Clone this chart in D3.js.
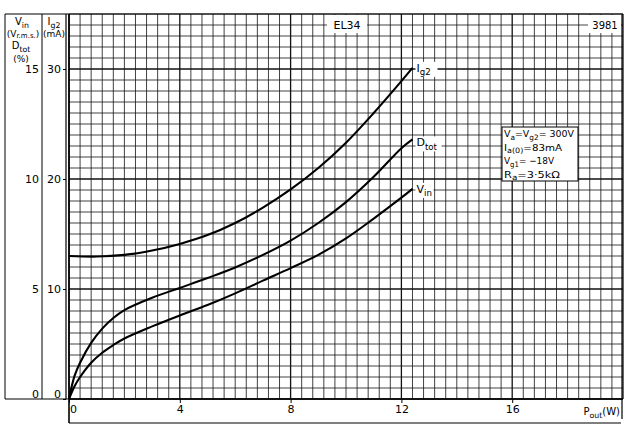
<!DOCTYPE html>
<html><head><meta charset="utf-8">
<script src="https://cdn.jsdelivr.net/npm/d3@7"></script>
<style>body{margin:0;background:#fff}svg{display:block;font-family:"DejaVu Sans","Liberation Sans",sans-serif}</style>
</head><body><svg id="c" width="640" height="427"></svg>
<script>
// ---- data ----
const powerIg2 = [0, 1, 2, 3, 4, 5, 6, 7, 8, 9, 10, 11, 12, 12.4];
const ig2      = [13.0, 12.95, 13.1, 13.5, 14.1, 14.9, 16.0, 17.4, 19.05, 21.0, 23.3, 26.0, 28.9, 30.1];
const powerDtot = [0, 0.2, 0.4, 0.8, 1.2, 1.6, 2, 3, 4, 5, 6, 7, 8, 9, 10, 11, 12, 12.4];
const dtot      = [0, 1.05, 1.65, 2.55, 3.2, 3.68, 4.04, 4.6, 5.05, 5.5, 5.98, 6.55, 7.2, 8.0, 8.95, 10.1, 11.4, 11.8];
const powerVin = [0, 0.2, 0.4, 0.8, 1.2, 1.6, 2, 3, 4, 5, 6, 7, 8, 9, 10, 11, 12, 12.4];
const vin      = [0, 0.58, 1.0, 1.65, 2.1, 2.45, 2.75, 3.3, 3.8, 4.27, 4.8, 5.38, 5.95, 6.55, 7.3, 8.2, 9.15, 9.55];
const xTicks = [0, 4, 8, 12, 16];
const ig2Ticks = [0, 10, 20, 30];
const vinTicks = [0, 5, 10, 15];
const conditions = [
  ["V", "a", "=V", "g2", "= 300V"],
  ["I", "a(0)", "=83mA"],
  ["V", "g1", "= \u221218V"],
  ["R", "a", "=3\u00b75k\u03a9"]
];

// ---- scales ----
const svg = d3.select("#c");
const x = d3.scaleLinear().domain([0, 20]).range([69, 623]);
const yI = d3.scaleLinear().domain([0, 35]).range([399, 14]);
const yV = d3.scaleLinear().domain([0, 17.5]).range([399, 14]);

svg.append("rect").attr("width", 640).attr("height", 427).attr("fill", "#fff");

// ---- grid ----
const g = svg.append("g");
const vLines = d3.range(0, 51).map(i => i * 0.4);
const hLines = d3.range(0, 36);
g.selectAll("line.v").data(vLines).join("line")
  .attr("x1", d => x(d)).attr("x2", d => x(d))
  .attr("y1", yI(35)).attr("y2", yI(0))
  .attr("stroke", "#111").attr("stroke-width", (d, i) => i % 10 === 0 ? 1.3 : 0.8);
g.selectAll("line.h").data(hLines).join("line")
  .attr("x1", x(0)).attr("x2", x(20))
  .attr("y1", d => yI(d)).attr("y2", d => yI(d))
  .attr("stroke", "#111").attr("stroke-width", d => d % 10 === 0 ? 1.3 : 0.8);

// ---- frames ----
const fr = svg.append("g").attr("stroke", "#000").attr("fill", "none");
fr.append("line").attr("x1", 5).attr("x2", 623).attr("y1", 14).attr("y2", 14).attr("stroke-width", 1.2);
fr.append("line").attr("x1", 5).attr("x2", 5).attr("y1", 14).attr("y2", 399).attr("stroke-width", 1);
fr.append("line").attr("x1", 42).attr("x2", 42).attr("y1", 14).attr("y2", 399).attr("stroke-width", 1);
fr.append("line").attr("x1", 66).attr("x2", 66).attr("y1", 14).attr("y2", 399).attr("stroke-width", 1.2);
fr.append("line").attr("x1", 5).attr("x2", 69).attr("y1", 399).attr("y2", 399).attr("stroke-width", 1.2);
fr.append("line").attr("x1", x(0)).attr("x2", x(0)).attr("y1", 14).attr("y2", 423).attr("stroke-width", 1.6);
fr.append("line").attr("x1", x(0)).attr("x2", x(20)).attr("y1", 399).attr("y2", 399).attr("stroke-width", 1.6);
fr.append("line").attr("x1", x(0)).attr("x2", 621).attr("y1", 423).attr("y2", 423).attr("stroke-width", 1.2);
fr.append("line").attr("x1", 622).attr("x2", 622).attr("y1", 14).attr("y2", 419).attr("stroke-width", 1.2);

// ---- axes (tick labels) ----
const xAxis = d3.axisBottom(x).tickValues(xTicks).tickSize(4).tickFormat(d3.format("d"));
const xa = svg.append("g").attr("transform", "translate(0,399)").call(xAxis);
xa.select(".domain").remove();
xa.selectAll("text").attr("font-size", 11).attr("font-family", "DejaVu Sans").attr("dy", "0.6em")
  .attr("text-anchor", "middle");
xa.selectAll(".tick").filter(d => d === 0).select("text").attr("dx", 4);

const yAxisI = d3.axisLeft(yI).tickValues(ig2Ticks).tickSize(3).tickPadding(2);
const ya = svg.append("g").attr("transform", "translate(66,0)").call(yAxisI);
ya.select(".domain").remove();
ya.selectAll("text").attr("font-size", 11).attr("font-family", "DejaVu Sans");
ya.selectAll(".tick").filter(d => d === 0).select("text").attr("dy", "-0.1em");

const yAxisV = d3.axisLeft(yV).tickValues(vinTicks).tickSize(0).tickPadding(3);
const yv = svg.append("g").attr("transform", "translate(42,0)").call(yAxisV);
yv.select(".domain").remove();
yv.selectAll("text").attr("font-size", 11).attr("font-family", "DejaVu Sans");
yv.selectAll(".tick").filter(d => d === 0).select("text").attr("dy", "-0.1em");

// ---- curves ----
function draw(px, py, ys) {
  const pts = px.map((p, i) => [p, py[i]]);
  svg.append("path").datum(pts)
    .attr("d", d3.line().x(d => x(d[0])).y(d => ys(d[1])).curve(d3.curveCatmullRom.alpha(0.5)))
    .attr("fill", "none").attr("stroke", "#000").attr("stroke-width", 2.1);
  return pts[pts.length - 1];
}
const eI = draw(powerIg2, ig2, yI);
const eD = draw(powerDtot, dtot, yV);
const eV = draw(powerVin, vin, yV);

// ---- text helpers ----
function label(parent, xx, yy, parts, size, anchor) {
  const t = parent.append("text").attr("x", xx).attr("y", yy).attr("font-size", size)
    .attr("text-anchor", anchor || "start").attr("fill", "#000");
  parts.forEach((p, i) => {
    const isSub = i % 2 === 1;
    const ts = t.append("tspan").text(p);
    if (isSub) { ts.attr("font-size", size * 0.78).attr("dy", size * 0.3); }
    else if (i > 0) { ts.attr("dy", -size * 0.3); }
  });
  return t;
}

// curve labels with white backgrounds
const labs = [
  {e: eI, ys: yI, parts: ["I", "g2"], dy: 4, w: 22},
  {e: eD, ys: yV, parts: ["D", "tot"], dy: 7, w: 26},
  {e: eV, ys: yV, parts: ["V", "in"], dy: 4, w: 18}
];
labs.forEach(l => {
  const lx = x(l.e[0]) + 4, ly = l.ys(l.e[1]) + l.dy;
  svg.append("rect").attr("x", lx - 1).attr("y", ly - 10).attr("width", l.w).attr("height", 15).attr("fill", "#fff");
  label(svg, lx, ly, l.parts, 11);
});

// title boxes
svg.append("rect").attr("x", 327).attr("y", 15).attr("width", 40).attr("height", 18).attr("fill", "#fff");
svg.append("text").attr("x", 347).attr("y", 29).attr("text-anchor", "middle").attr("font-size", 11).text("EL34");
svg.append("rect").attr("x", 588).attr("y", 15).attr("width", 33).attr("height", 18).attr("fill", "#fff");
svg.append("text").attr("x", 605).attr("y", 29).attr("text-anchor", "middle").attr("font-size", 10).text("3981");

// conditions box
svg.append("rect").attr("x", 502).attr("y", 127).attr("width", 76).attr("height", 54)
  .attr("fill", "#fff").attr("stroke", "#000").attr("stroke-width", 1);
const lens = [70, 58, 50, 56];
conditions.forEach((c, i) => label(svg, 504, 137 + i * 13.5, c, 9.5)
  .attr("textLength", lens[i]).attr("lengthAdjust", "spacingAndGlyphs"));

// left headers
label(svg, 22, 25, ["V", "in"], 10, "middle");
const rms = svg.append("text").attr("x", 23).attr("y", 37).attr("text-anchor", "middle").attr("font-size", 9);
rms.append("tspan").text("(V");
rms.append("tspan").text("r.m.s.").attr("font-size", 7).attr("dy", 1);
rms.append("tspan").text(")").attr("dy", -1);
label(svg, 21, 49, ["D", "tot"], 10, "middle");
svg.append("text").attr("x", 21).attr("y", 62).attr("text-anchor", "middle").attr("font-size", 9).text("(%)");
label(svg, 54, 25, ["I", "g2"], 10, "middle");
svg.append("text").attr("x", 54).attr("y", 37).attr("text-anchor", "middle").attr("font-size", 9).text("(mA)");

// x axis title
label(svg, 620, 415, ["P", "out", "(W)"], 10, "end");
</script>
</body></html>
